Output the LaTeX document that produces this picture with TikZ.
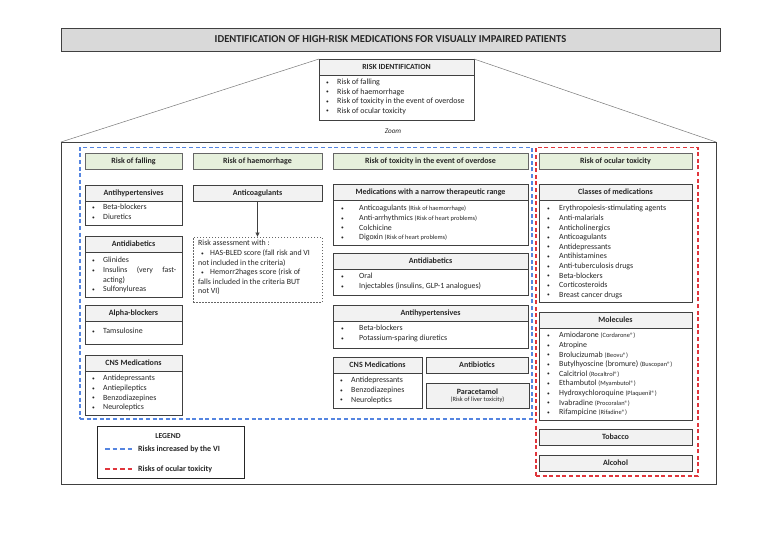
\documentclass[tikz,border=0pt]{standalone}
\usepackage{fontspec}
\setmainfont{Carlito}
\usetikzlibrary{arrows.meta}
\definecolor{bdr}{HTML}{404040}
\definecolor{hdrfill}{HTML}{F2F2F2}
\definecolor{ttlfill}{HTML}{D9D9D9}
\definecolor{grnfill}{HTML}{E6F0DC}
\definecolor{vblue}{HTML}{5585E0}
\definecolor{ored}{HTML}{E0363C}
\definecolor{txtc}{HTML}{262626}
\newcommand{\bx}[7]{%
  \pgfmathsetmacro\bxw{#5-#3}%
  \pgfmathsetmacro\bxh{#6-#4}%
  \node[#2, minimum width=\bxw pt, minimum height=\bxh pt] (#1) at ({(#3+#5)/2},{(#4+#6)/2}) {#7};}
\newcommand{\sbul}{\raisebox{0.4pt}{{\fontsize{5.5}{6}\selectfont\textbullet}}}
\newcommand{\bul}[2][11pt]{\strut\makebox[#1][l]{\sbul}#2}
\newcommand{\sml}[1]{{\fontsize{6.4}{9.6}\selectfont #1}}
\tikzset{
  box/.style={draw=bdr, line width=0.7pt, inner sep=0pt, outer sep=0pt, rectangle, text=txtc},
  hdr/.style={box, fill=hdrfill, font=\fontsize{8}{9}\selectfont\bfseries},
  grn/.style={box, fill=grnfill, draw=bdr!80, font=\fontsize{8}{9}\selectfont\bfseries},
  ttl/.style={box, fill=ttlfill, line width=0.9pt, font=\fontsize{10.6}{12}\selectfont\bfseries},
  plainbox/.style={box},
  obox/.style={box, line width=0.9pt},
  bluedash/.style={draw=vblue, line width=1.2pt, dash pattern=on 4pt off 2.6pt, inner sep=0pt, outer sep=0pt},
  reddash/.style={draw=ored, line width=1.6pt, dash pattern=on 4pt off 2.6pt, inner sep=0pt, outer sep=0pt},
  dbox/.style={box, draw=bdr!80, line width=0.6pt, dash pattern=on 1.5pt off 1.5pt},
  legbox/.style={box, draw=black!85, line width=0.9pt},
  txt/.style={inner sep=0pt, anchor=north west, align=left, text=txtc, font=\fontsize{7.9}{9.6}\selectfont},
  ltxt/.style={inner sep=0pt, anchor=west, text=txtc, font=\fontsize{8}{9}\selectfont\bfseries},
  arr/.style={draw=bdr, line width=0.6pt, -{Latex[length=4.5pt,width=4.5pt]}},
  trap/.style={draw=bdr!70, line width=0.5pt}
}
\begin{document}
\begin{tikzpicture}[x=1pt,y=-1pt]
\useasboundingbox[fill=white] (0,0) rectangle (779,550);
% title
\bx{title}{ttl}{61}{28}{720}{51}{IDENTIFICATION OF HIGH-RISK MEDICATIONS FOR VISUALLY IMPAIRED PATIENTS}
% risk identification
\bx{rih}{hdr, font=\fontsize{7.8}{8}\selectfont\bfseries}{319}{59}{474}{75}{RISK IDENTIFICATION}
\bx{rib}{plainbox}{319}{75}{474}{120}{}
\node[txt, font=\fontsize{8}{9.5}\selectfont] (ritx) at (326,78) {\bul{Risk of falling}\\\bul{Risk of haemorrhage}\\\bul{Risk of toxicity in the event of overdose}\\\bul{Risk of ocular toxicity}};
\node[inner sep=0pt, text=txtc, font=\fontsize{7.2}{8}\selectfont\itshape] (zoom) at (393,131) {Zoom};
% outer box
\bx{outer}{obox}{61}{142}{716}{484}{}
\draw[trap] (outer.north west) -- (rih.north west);
\draw[trap] (outer.north east) -- (rih.north east);
% dashed groups
\bx{bluegrp}{bluedash}{80}{147.5}{532}{419}{}
\bx{redgrp}{reddash}{536}{147.5}{698}{476}{}
% green headers
\bx{gfall}{grn}{85}{153}{182}{169}{Risk of falling}
\bx{ghaem}{grn}{193}{153}{322}{169}{Risk of haemorrhage}
\bx{gtox}{grn}{333}{153}{528}{169}{Risk of toxicity in the event of overdose}
\bx{gocu}{grn}{539}{153}{692}{169}{Risk of ocular toxicity}
% falling column
\bx{fahh}{hdr}{85}{185}{182}{201}{Antihypertensives}
\bx{fahb}{plainbox}{85}{201}{182}{225}{}
\node[txt] (fahtx) at (92,203) {\bul{Beta-blockers}\\\bul{Diuretics}};
\bx{fadh}{hdr}{85}{236}{182}{252}{Antidiabetics}
\bx{fadb}{plainbox}{85}{252}{182}{297}{}
\node[txt] (fadtx) at (92,256) {\bul{Glinides}\\\bul{\makebox[73pt][s]{Insulins (very fast-}}\\\strut\hspace*{11pt}acting)\\\bul{Sulfonylureas}};
\bx{fabh}{hdr}{85}{305}{182}{321}{Alpha-blockers}
\bx{fabb}{plainbox}{85}{321}{182}{344}{}
\node[txt] (fabtx) at (92,327) {\bul{Tamsulosine}};
\bx{fach}{hdr}{85}{355}{182}{371}{CNS Medications}
\bx{facb}{plainbox}{85}{371}{182}{415}{}
\node[txt] (factx) at (92,374) {\bul{Antidepressants}\\\bul{Antiepileptics}\\\bul{Benzodiazepines}\\\bul{Neuroleptics}};
% haemorrhage column
\bx{hac}{hdr}{193}{185}{322}{201}{Anticoagulants}
\bx{hdb}{dbox}{193}{237}{322}{302}{}
\draw[arr] (hac.south) -- (hdb.north);
\node[txt] (hdtx) at (198,239) {\strut Risk assessment with :\\\strut\hspace*{3pt}\makebox[9pt][l]{\sbul}HAS-BLED score (fall risk and VI\\\strut not included in the criteria)\\\strut\hspace*{3pt}\makebox[9pt][l]{\sbul}Hemorr2hages score (risk of\\\strut falls included in the criteria BUT\\\strut not VI)};
% toxicity column
\bx{tnh}{hdr}{333}{184}{528}{200}{Medications with a narrow therapeutic range}
\bx{tnb}{plainbox}{333}{200}{528}{245}{}
\node[txt] (tntx) at (341,204) {\bul[18pt]{Anticoagulants \sml{(Risk of haemorrhage)}}\\\bul[18pt]{Anti-arrhythmics \sml{(Risk of heart problems)}}\\\bul[18pt]{Colchicine}\\\bul[18pt]{Digoxin \sml{(Risk of heart problems)}}};
\bx{tdh}{hdr}{333}{253}{528}{269}{Antidiabetics}
\bx{tdb}{plainbox}{333}{269}{528}{295}{}
\node[txt] (tdtx) at (341,272) {\bul[18pt]{Oral}\\\bul[18pt]{Injectables (insulins, GLP-1 analogues)}};
\bx{thh}{hdr}{333}{305}{528}{321}{Antihypertensives}
\bx{thb}{plainbox}{333}{321}{528}{348}{}
\node[txt] (thtx) at (341,324) {\bul[18pt]{Beta-blockers}\\\bul[18pt]{Potassium-sparing diuretics}};
\bx{tch}{hdr}{333}{357}{422}{373}{CNS Medications}
\bx{tcb}{plainbox}{333}{373}{422}{408}{}
\node[txt] (tctx) at (340,376) {\bul{Antidepressants}\\\bul{Benzodiazepines}\\\bul{Neuroleptics}};
\bx{tab}{hdr}{426}{357}{528}{373}{Antibiotics}
\bx{tpa}{hdr, align=center}{426}{383}{529}{408}{Paracetamol\\[-1.5pt]\sml{\mdseries (Risk of liver toxicity)}}
% ocular column
\bx{och}{hdr}{539}{184}{692}{200}{Classes of medications}
\bx{ocb}{plainbox}{539}{200}{692}{302}{}
\node[txt] (octx) at (547,204) {\bul[12pt]{Erythropoiesis-stimulating agents}\\\bul[12pt]{Anti-malarials}\\\bul[12pt]{Anticholinergics}\\\bul[12pt]{Anticoagulants}\\\bul[12pt]{Antidepressants}\\\bul[12pt]{Antihistamines}\\\bul[12pt]{Anti-tuberculosis drugs}\\\bul[12pt]{Beta-blockers}\\\bul[12pt]{Corticosteroids}\\\bul[12pt]{Breast cancer drugs}};
\bx{omh}{hdr}{539}{312}{692}{328}{Molecules}
\bx{omb}{plainbox}{539}{328}{692}{420}{}
\node[txt] (omtx) at (547,331) {\bul[12pt]{Amiodarone \sml{(Cordarone®)}}\\\bul[12pt]{Atropine}\\\bul[12pt]{Brolucizumab \sml{(Beovu®)}}\\\bul[12pt]{Butylhyoscine (bromure) \sml{(Buscopan®)}}\\\bul[12pt]{Calcitriol \sml{(Rocaltrol®)}}\\\bul[12pt]{Ethambutol \sml{(Myambutol®)}}\\\bul[12pt]{Hydroxychloroquine \sml{(Plaquenil®)}}\\\bul[12pt]{Ivabradine \sml{(Procoralan®)}}\\\bul[12pt]{Rifampicine \sml{(Rifadine®)}}};
\bx{otb}{hdr}{539}{429}{692}{445}{Tobacco}
\bx{oal}{hdr}{539}{455}{692}{471}{Alcohol}
% legend
\bx{legend}{legbox}{97}{426}{244}{478}{}
\node[inner sep=0pt, text=txtc, font=\fontsize{7.6}{9}\selectfont\bfseries] (legt) at (168,436) {LEGEND};
\coordinate (lb1) at (105,449);
\coordinate (lb2) at (134,449);
\coordinate (lr1) at (105,469);
\coordinate (lr2) at (134,469);
\draw[bluedash, line width=1.1pt, dash pattern=on 4.5pt off 3pt] (lb1) -- (lb2);
\draw[reddash, line width=1.3pt, dash pattern=on 4.5pt off 3pt] (lr1) -- (lr2);
\node[ltxt] (lbt) at (138,449) {Risks increased by the VI};
\node[ltxt] (lrt) at (138,469) {Risks of ocular toxicity};
\end{tikzpicture}
\end{document}
